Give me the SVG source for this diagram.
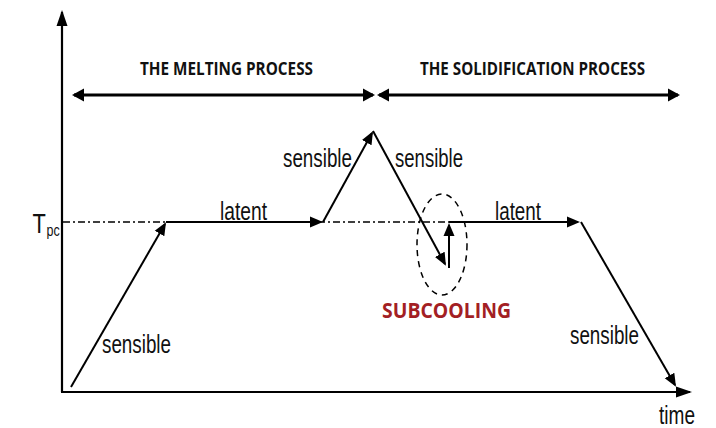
<svg xmlns="http://www.w3.org/2000/svg" width="716" height="428" viewBox="0 0 716 428">
<style>
.ax{stroke:#000;stroke-width:2.2;fill:none}
.cv{stroke:#000;stroke-width:2;fill:none}
.pr{stroke:#000;stroke-width:3;fill:none}
.dd{stroke:#000;stroke-width:1.5;fill:none;stroke-dasharray:7 3 2 3}
.el{stroke:#000;stroke-width:1.5;fill:none;stroke-dasharray:6 5}
.lb{font-family:"Liberation Sans",Arial,sans-serif;font-size:25px;fill:#111}
.tt{font-family:"Open Sans","Liberation Sans",sans-serif;font-weight:bold;font-size:17px;fill:#111}
.sc{font-family:"Open Sans","Liberation Sans",sans-serif;font-weight:bold;font-size:21px;fill:#A31F24}
</style>
<defs>
<marker id="ah" markerUnits="userSpaceOnUse" markerWidth="14" markerHeight="12" refX="11" refY="6" orient="auto-start-reverse"><path d="M0,0.5 L13,6 L0,11.5 z" fill="#000"/></marker>
<marker id="ahb" markerUnits="userSpaceOnUse" markerWidth="14" markerHeight="14" refX="10" refY="7" orient="auto-start-reverse"><path d="M0,0.5 L12,7 L0,13.5 z" fill="#000"/></marker>
<marker id="axh" markerUnits="userSpaceOnUse" markerWidth="17" markerHeight="12" refX="14" refY="6" orient="auto"><path d="M0,0.5 L16,6 L0,11.5 z" fill="#000"/></marker>
</defs>

<g id="axes">
<line class="ax" x1="62" y1="392" x2="62" y2="12" marker-end="url(#axh)"/>
<line class="ax" x1="61" y1="392" x2="690" y2="392" marker-end="url(#axh)"/>
</g>

<g id="tpc-line">
<line class="dd" x1="63" y1="222" x2="449" y2="222"/>
<text transform="translate(32.5,0) scale(0.78,1)" x="0" y="233" style="font-family:'Liberation Sans',Arial,sans-serif;font-size:28px;fill:#111">T<tspan x="18" y="236" font-size="16">pc</tspan></text>
</g>

<g id="melting">
<line class="pr" x1="74" y1="95" x2="373" y2="95" marker-start="url(#ahb)" marker-end="url(#ahb)"/>
<text class="tt" x="140" y="75" textLength="173" lengthAdjust="spacingAndGlyphs">THE MELTING PROCESS</text>
</g>

<g id="solidification">
<line class="pr" x1="379" y1="95" x2="678" y2="95" marker-start="url(#ahb)" marker-end="url(#ahb)"/>
<text class="tt" x="420" y="75" textLength="225" lengthAdjust="spacingAndGlyphs">THE SOLIDIFICATION PROCESS</text>
</g>

<g id="connectors">
<line class="cv" x1="71" y1="387" x2="165" y2="224" marker-end="url(#ah)"/>
<line class="cv" x1="166" y1="222" x2="321" y2="222" marker-end="url(#ah)"/>
<line class="cv" x1="323" y1="222" x2="372" y2="133" marker-end="url(#ah)"/>
<line class="cv" x1="373" y1="131" x2="445" y2="264" marker-end="url(#ah)"/>
<line class="cv" x1="449" y1="268" x2="449" y2="225" marker-end="url(#ah)"/>
<line class="cv" x1="449" y1="222" x2="578" y2="222" marker-end="url(#ah)"/>
<line class="cv" x1="581" y1="222" x2="675" y2="385" marker-end="url(#ah)"/>
</g>

<g id="subcooling">
<ellipse class="el" cx="442" cy="244.5" rx="25" ry="50.5"/>
<text class="sc" x="382" y="318" textLength="129" lengthAdjust="spacingAndGlyphs">SUBCOOLING</text>
</g>

<g id="labels">
<text class="lb" x="102" y="353" textLength="69" lengthAdjust="spacingAndGlyphs">sensible</text>
<text class="lb" x="220" y="220" textLength="47" lengthAdjust="spacingAndGlyphs">latent</text>
<text class="lb" x="283" y="167" textLength="69" lengthAdjust="spacingAndGlyphs">sensible</text>
<text class="lb" x="395" y="167" textLength="68" lengthAdjust="spacingAndGlyphs">sensible</text>
<text class="lb" x="495" y="220" textLength="46" lengthAdjust="spacingAndGlyphs">latent</text>
<text class="lb" x="570" y="344" textLength="69" lengthAdjust="spacingAndGlyphs">sensible</text>
<text class="lb" x="659" y="424" textLength="36" lengthAdjust="spacingAndGlyphs">time</text>
</g>
</svg>
